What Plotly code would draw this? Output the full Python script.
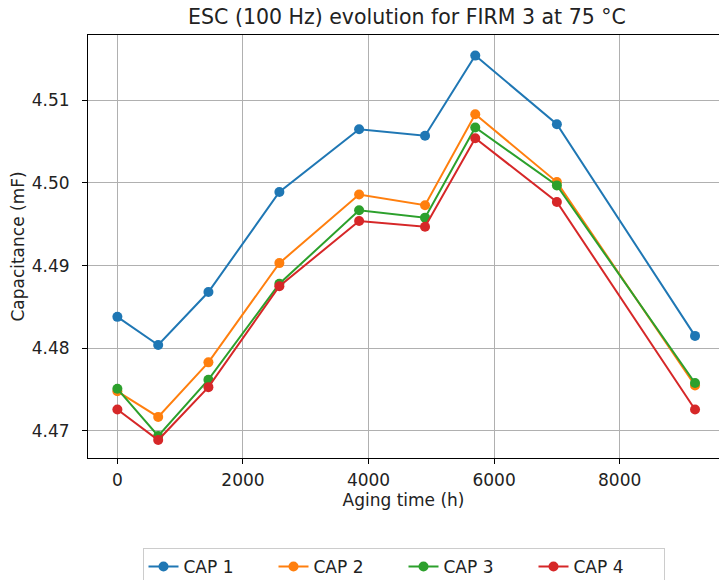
import plotly.graph_objects as go

# Aging time (h) at each measurement
aging_hours = [0, 650, 1450, 2580, 3850, 4900, 5700, 7000, 9200]

# Capacitance (mF) of each capacitor
cap1 = [4.4838, 4.4804, 4.4868, 4.4989, 4.5065, 4.5057, 4.5154, 4.5071, 4.4815]
cap2 = [4.4748, 4.4717, 4.4783, 4.4903, 4.4986, 4.4973, 4.5083, 4.5001, 4.4755]
cap3 = [4.4751, 4.4694, 4.4762, 4.4878, 4.4967, 4.4958, 4.5067, 4.4997, 4.4758]
cap4 = [4.4726, 4.4689, 4.4753, 4.4875, 4.4954, 4.4947, 4.5054, 4.4977, 4.4726]

series_names = ["CAP 1", "CAP 2", "CAP 3", "CAP 4"]
series_values = [cap1, cap2, cap3, cap4]
colors = ["#1f77b4", "#ff7f0e", "#2ca02c", "#d62728"]

y_ticks = [4.47, 4.48, 4.49, 4.50, 4.51]
x_ticks = [0, 2000, 4000, 6000, 8000]

font = "DejaVu Sans"
text_color = "#222"

fig = go.Figure()
for name, vals, col in zip(series_names, series_values, colors):
    fig.add_trace(go.Scatter(
        x=aging_hours, y=vals, name=name, mode="lines+markers",
        line=dict(color=col, width=2),
        marker=dict(color=col, size=10),
    ))

axis_common = dict(
    showline=True, linecolor="black", linewidth=1, mirror=True,
    showgrid=True, gridcolor="#b0b0b0", gridwidth=1,
    ticks="outside", ticklen=5, tickcolor="black", tickwidth=1,
    zeroline=False, automargin=False,
    tickfont=dict(family=font, size=17, color=text_color),
)

fig.update_layout(
    width=719, height=580,
    margin=dict(l=88, r=0, t=35, b=122),
    paper_bgcolor="white", plot_bgcolor="white",
    title=dict(
        text="ESC (100 Hz) evolution for FIRM 3 at 75 °C",
        x=0.566, xanchor="center",
        y=1 - 17 / 580, yanchor="middle", yref="container",
        font=dict(family=font, size=20.5, color=text_color),
    ),
    xaxis=dict(
        axis_common,
        range=[-468, 9582],
        tickvals=x_ticks,
        ticklabelstandoff=2,
        title=dict(text="Aging time (h)", font=dict(family=font, size=17, color=text_color), standoff=2),
    ),
    yaxis=dict(
        axis_common,
        range=[4.46673, 4.51789],
        tickvals=y_ticks, tickformat=".2f",
        ticklabelstandoff=9,
        title=dict(text="Capacitance (mF)", font=dict(family=font, size=17, color=text_color), standoff=2),
    ),
    legend=dict(
        orientation="h", x=0.5, xanchor="center",
        yref="container", y=1 - 548 / 580, yanchor="top",
        bordercolor="#cccccc", borderwidth=1, bgcolor="white",
        font=dict(family=font, size=17, color=text_color),
        entrywidth=85,
    ),
    showlegend=True,
)

fig.write_html("out.html")
